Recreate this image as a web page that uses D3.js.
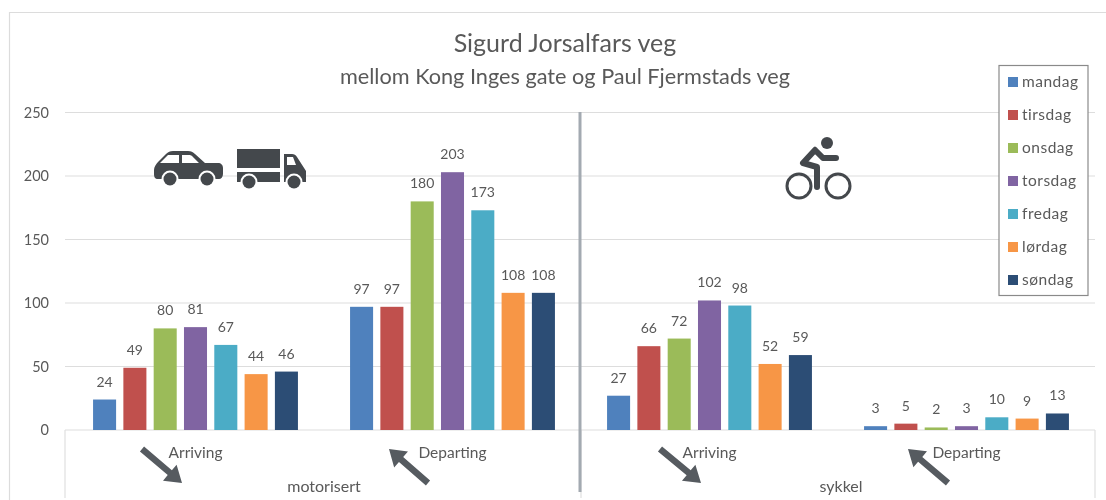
<!DOCTYPE html>
<html><head><meta charset="utf-8">
<script src="https://cdnjs.cloudflare.com/ajax/libs/d3/7.8.5/d3.min.js"></script>
<style>html,body{margin:0;background:#fff}svg{display:block;filter:blur(0.35px)}text{font-family:Lato,sans-serif;fill:#595959}</style>
</head><body><svg id="c" width="1106" height="500"></svg>
<script>
const days=["mandag","tirsdag","onsdag","torsdag","fredag","lørdag","søndag"];
const colors=["#4f81bd","#c0504d","#9bbb59","#8064a2","#4bacc6","#f79646","#2c4d75"];
const groups=["Arriving","Departing","Arriving","Departing"];
const parents=["motorisert","sykkel"];
const motorArriving=[24,49,80,81,67,44,46];
const motorDeparting=[97,97,180,203,173,108,108];
const bikeArriving=[27,66,72,102,98,52,59];
const bikeDeparting=[3,5,2,3,10,9,13];
const seriesByGroup=[motorArriving,motorDeparting,bikeArriving,bikeDeparting];
const yTicks=[0,50,100,150,200,250];

const svg=d3.select("#c");
const L=67,R=1095,T=112.5,B=430;
const y=d3.scaleLinear().domain([0,250]).range([B,T]);
const x0=d3.scaleBand().domain(d3.range(4)).range([L,R]);
const x1=d3.scaleBand().domain(d3.range(7)).range([0,x0.bandwidth()]).paddingInner(0.24).paddingOuter(0.86);

// outer frame
svg.append("path").attr("d","M9.5,500V12.5H1106").attr("fill","none").attr("stroke","#dcdcdc").attr("stroke-width",1.2);

// grid and y labels
const grid=svg.append("g");
yTicks.forEach(t=>{
  grid.append("line").attr("x1",L-2).attr("x2",R).attr("y1",y(t)).attr("y2",y(t)).attr("stroke","#dddddd").attr("stroke-width",1.2);
  grid.append("text").attr("x",49).attr("y",y(t)+5).attr("text-anchor","end").attr("font-size",14.5).text(t);
});
// multi-level axis separators
[L-2,581,R].forEach(v=>svg.append("line").attr("x1",v).attr("x2",v).attr("y1",B).attr("y2",498).attr("stroke","#e0e0e0").attr("stroke-width",1.2));

// bars
seriesByGroup.forEach((vals,g)=>{
  const gg=svg.append("g").attr("transform",`translate(${x0(g)},0)`);
  gg.selectAll("rect").data(vals).join("rect")
    .attr("x",(d,i)=>x1(i)).attr("width",x1.bandwidth())
    .attr("y",d=>y(d)).attr("height",d=>B-y(d))
    .attr("fill",(d,i)=>colors[i]);
  gg.selectAll("text").data(vals).join("text")
    .attr("x",(d,i)=>x1(i)+x1.bandwidth()/2).attr("y",d=>y(d)-13)
    .attr("text-anchor","middle").attr("font-size",14).text(d=>d);
  svg.append("text").attr("x",x0(g)+x0.bandwidth()/2).attr("y",458).attr("text-anchor","middle").attr("font-size",15.5).text(groups[g]);
});
parents.forEach((p,i)=>svg.append("text").attr("x",x0(i*2+1)+i*3).attr("y",492).attr("text-anchor","middle").attr("font-size",16).text(p));

// divider
svg.append("line").attr("x1",580).attr("x2",580).attr("y1",112).attr("y2",492).attr("stroke","#a3aab1").attr("stroke-width",3);

// titles
svg.append("text").attr("x",565).attr("y",52).attr("text-anchor","middle").attr("font-size",25).text("Sigurd Jorsalfars veg");
svg.append("text").attr("x",565).attr("y",84).attr("text-anchor","middle").attr("font-size",21.7).text("mellom Kong Inges gate og Paul Fjermstads veg");

// legend
svg.append("rect").attr("x",999).attr("y",65.5).attr("width",89).attr("height",230).attr("fill","#fff").attr("stroke","#8a8a8a").attr("stroke-width",1.2);
const legY=d3.scalePoint().domain(days).range([82,280]);
days.forEach((d,i)=>{
  svg.append("rect").attr("x",1008).attr("y",legY(d)-5).attr("width",10).attr("height",10).attr("fill",colors[i]);
  svg.append("text").attr("x",1022).attr("y",legY(d)+5).attr("font-size",15.5).style("letter-spacing","0.5px").text(d);
});

// block arrows
function arrow(x1a,y1a,x2a,y2a){
  const a=Math.atan2(y2a-y1a,x2a-x1a)*180/Math.PI, len=Math.hypot(x2a-x1a,y2a-y1a);
  svg.append("path").attr("transform",`translate(${x1a},${y1a}) rotate(${a})`)
    .attr("d",`M0,-3.2H${len-16}V-10.5L${len},0L${len-16},10.5V3.2H0Z`).attr("fill","#565b60");
}
arrow(142,449,182,483);
arrow(428,483,389,449);
arrow(660,449,701,483);
arrow(948,483,908,449);

// car icon
const ic="#44484c";
svg.append("path").attr("fill",ic).attr("d","M154,170c0-3,2-6,4-8l8-8c2-2,4-3,7-3h15c3,0,5,1,7,3l10,9h13c3,0,5,2,5,5v6c0,3-2,5-4,5H158c-3,0-4-2-4-5Z");
svg.append("path").attr("fill","#fff").attr("d","M160,163l8-8h11v8ZM182,155h7c1,0,2,0,3,1l7,7h-17Z");
[170,207].forEach(cx=>{svg.append("circle").attr("cx",cx).attr("cy",179).attr("r",8.5).attr("fill","#fff");svg.append("circle").attr("cx",cx).attr("cy",179).attr("r",6.5).attr("fill",ic);});
// truck icon
svg.append("path").attr("fill",ic).attr("d","M237,149h43v19h-43ZM237,172h43v10h-43ZM284,154h8c2,0,4,1,5,3l9,14v11h-22Z");
svg.append("path").attr("fill","#fff").attr("d","M287,157h6l3,8h-9Z");
[249,294].forEach(cx=>{svg.append("circle").attr("cx",cx).attr("cy",182).attr("r",8.5).attr("fill","#fff");svg.append("circle").attr("cx",cx).attr("cy",182).attr("r",6.5).attr("fill",ic);});
// bicycle icon
[[799,186],[838,186]].forEach(c=>svg.append("circle").attr("cx",c[0]).attr("cy",c[1]).attr("r",12).attr("fill","none").attr("stroke",ic).attr("stroke-width",3));
svg.append("circle").attr("cx",827).attr("cy",143).attr("r",6).attr("fill",ic);
svg.append("path").attr("fill","none").attr("stroke",ic).attr("stroke-width",6).attr("stroke-linecap","round").attr("stroke-linejoin","round").attr("d","M815,150L803,163L817,167V187M815,150L823,158H836");
</script></body></html>
